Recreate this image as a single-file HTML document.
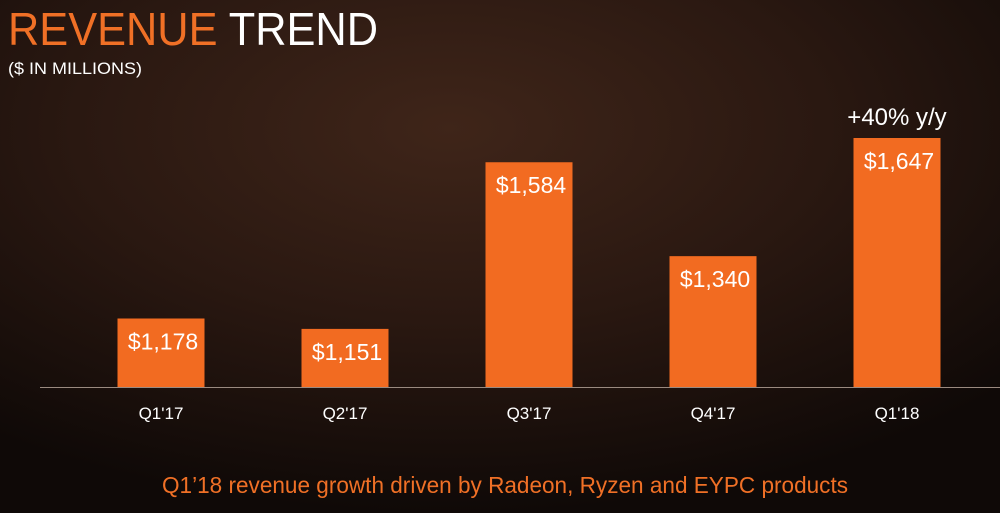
<!DOCTYPE html>
<html><head><meta charset="utf-8"><style>
html,body{margin:0;padding:0;width:1000px;height:513px;overflow:hidden;background:#160d0a}
svg{display:block;font-family:"Liberation Sans",sans-serif}
</style></head><body>
<svg id="chart" width="1000" height="513" viewBox="0 0 1000 513">
<defs>
<radialGradient id="bg" cx="0.45" cy="0.25" r="0.75">
<stop offset="0" stop-color="#3f2519"/><stop offset="0.5" stop-color="#2a1811"/><stop offset="1" stop-color="#0f0907"/>
</radialGradient>
</defs>
<rect width="1000" height="513" fill="url(#bg)"/>
<text x="8" y="45" font-size="46" textLength="370" lengthAdjust="spacingAndGlyphs"><tspan fill="#f07026">REVENUE</tspan><tspan fill="#ffffff"> TREND</tspan></text>
<text x="8" y="74" font-size="17" fill="#ffffff" textLength="134" lengthAdjust="spacingAndGlyphs">($ IN MILLIONS)</text>
<line x1="40" y1="387.5" x2="1000" y2="387.5" stroke="#9a8a80" stroke-width="1"/>
<g id="bars"></g>
<text x="897" y="125" font-size="24" fill="#ffffff" text-anchor="middle">+40% y/y</text>
<text x="505" y="493" font-size="23" fill="#f07026" text-anchor="middle" textLength="686" lengthAdjust="spacingAndGlyphs">Q1’18 revenue growth driven by Radeon, Ryzen and EYPC products</text>
</svg>
<script>
const categories = ["Q1'17","Q2'17","Q3'17","Q4'17","Q1'18"];
const revenue = [1178,1151,1584,1340,1647];
const valueLabels = ["$1,178","$1,151","$1,584","$1,340","$1,647"];
const yMin = 1000, yMax = 1647;
const baseY = 387, topY = 138;
function y(v){ return baseY - (v - yMin) / (yMax - yMin) * (baseY - topY); }
function xCenter(i){ return 161 + i * 184; }
const barW = 87;
const g = document.getElementById('bars');
const NS = 'http://www.w3.org/2000/svg';
revenue.forEach((v,i)=>{
  const r = document.createElementNS(NS,'rect');
  
  
  r.setAttribute('x', xCenter(i) - barW/2);
  r.setAttribute('y', y(v));
  r.setAttribute('width', barW);
  r.setAttribute('height', baseY - y(v));
  r.setAttribute('fill', '#f26b21');
  g.appendChild(r);
  const t = document.createElementNS(NS,'text');
  
  
  t.setAttribute('x', xCenter(i) + 2);
  t.setAttribute('y', y(v) + 31);
  t.setAttribute('font-size', '23');
  t.setAttribute('fill', '#ffffff');
  t.setAttribute('text-anchor', 'middle');
  t.textContent = valueLabels[i];
  g.appendChild(t);
  const c = document.createElementNS(NS,'text');
  
  
  c.setAttribute('x', xCenter(i));
  c.setAttribute('y', 419);
  c.setAttribute('font-size', '17');
  c.setAttribute('fill', '#ffffff');
  c.setAttribute('text-anchor', 'middle');
  c.textContent = categories[i];
  g.appendChild(c);
});
</script>
</body></html>
